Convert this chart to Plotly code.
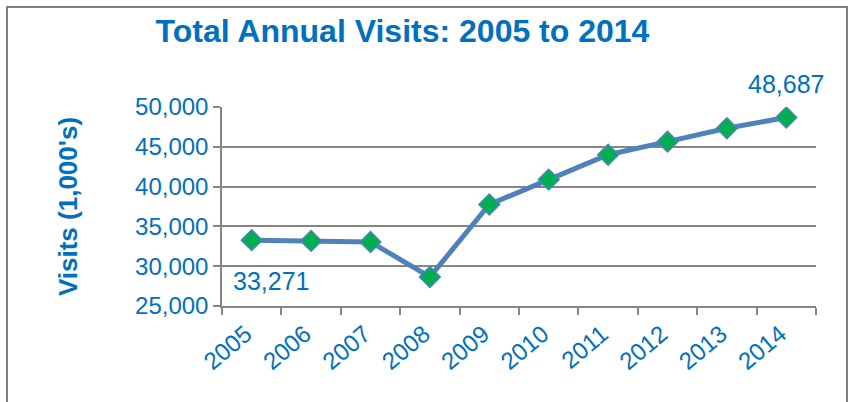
import plotly.graph_objects as go

years = ["2005", "2006", "2007", "2008", "2009", "2010", "2011", "2012", "2013", "2014"]
visits = [33271, 33180, 33050, 28650, 37750, 40880, 44000, 45650, 47330, 48687]
y_ticks = [25000, 30000, 35000, 40000, 45000, 50000]
y_tick_text = ["25,000", "30,000", "35,000", "40,000", "45,000", "50,000"]

BLUE = "#0070C0"
LINE = "#4F81BD"
GREEN = "#00B050"
GRID = "#868686"
FONT = "Liberation Sans, Arial, sans-serif"

W, H = 849, 402
L, R, T, B = 222, 33, 107, 96
PW, PH = W - L - R, H - T - B

fig = go.Figure()
fig.add_trace(go.Scatter(
    x=years, y=visits, mode="lines+markers",
    line=dict(color=LINE, width=5),
    marker=dict(symbol="diamond", size=16, color=GREEN, line=dict(color=LINE, width=1.5)),
    showlegend=False, hoverinfo="skip",
))

fig.add_annotation(x=0, y=visits[0], xref="x", yref="y", text=f"{visits[0]:,}", showarrow=False,
                   xanchor="left", yanchor="top", xshift=-21, yshift=-25,
                   font=dict(family=FONT, size=25, color=BLUE))
fig.add_annotation(x=len(years) - 1, y=visits[-1], xref="x", yref="y", text=f"{visits[-1]:,}",
                   showarrow=False, xanchor="center", yanchor="bottom", xshift=0, yshift=17,
                   font=dict(family=FONT, size=25, color=BLUE))

fig.update_layout(
    width=W, height=H,
    margin=dict(l=L, r=R, t=T, b=B),
    paper_bgcolor="white", plot_bgcolor="white",
    title=dict(text="<b>Total Annual Visits: 2005 to 2014</b>", x=402.5 / W, xanchor="center",
               y=1 - 31 / H, yanchor="middle",
               font=dict(family=FONT, size=32, color=BLUE)),
    font=dict(family=FONT, color=BLUE),
    shapes=[dict(type="rect", xref="paper", yref="paper",
                 x0=(7 - L) / PW, x1=(847 - L) / PW,
                 y0=-(B + 20) / PH, y1=(H - B - 7) / PH,
                 line=dict(color="#808080", width=2), layer="below")],
)

fig.update_xaxes(
    type="category", range=[-0.5, 9.5], tickson="boundaries",
    ticks="outside", ticklen=7, tickcolor=GRID, tickwidth=1.5,
    showline=True, linecolor=GRID, linewidth=1.5,
    showgrid=False, tickangle=-40, ticklabelshift=-6, ticklabelstandoff=3,
    tickfont=dict(family=FONT, size=24, color=BLUE),
)
fig.update_yaxes(
    range=[25000, 50000], tickvals=y_ticks, ticktext=y_tick_text,
    ticks="outside", ticklen=7, tickcolor=GRID, tickwidth=1.5,
    showline=True, linecolor=GRID, linewidth=1.5,
    showgrid=True, gridcolor=GRID, gridwidth=1.5, zeroline=False,
    tickfont=dict(family=FONT, size=24, color=BLUE),
    title=dict(text="<b>Visits (1,000's)</b>", standoff=50,
               font=dict(family=FONT, size=26, color=BLUE)),
)

fig.write_html("out.html", config={"displayModeBar": False},
               post_script="document.body.style.margin='0';document.body.style.padding='0';")
